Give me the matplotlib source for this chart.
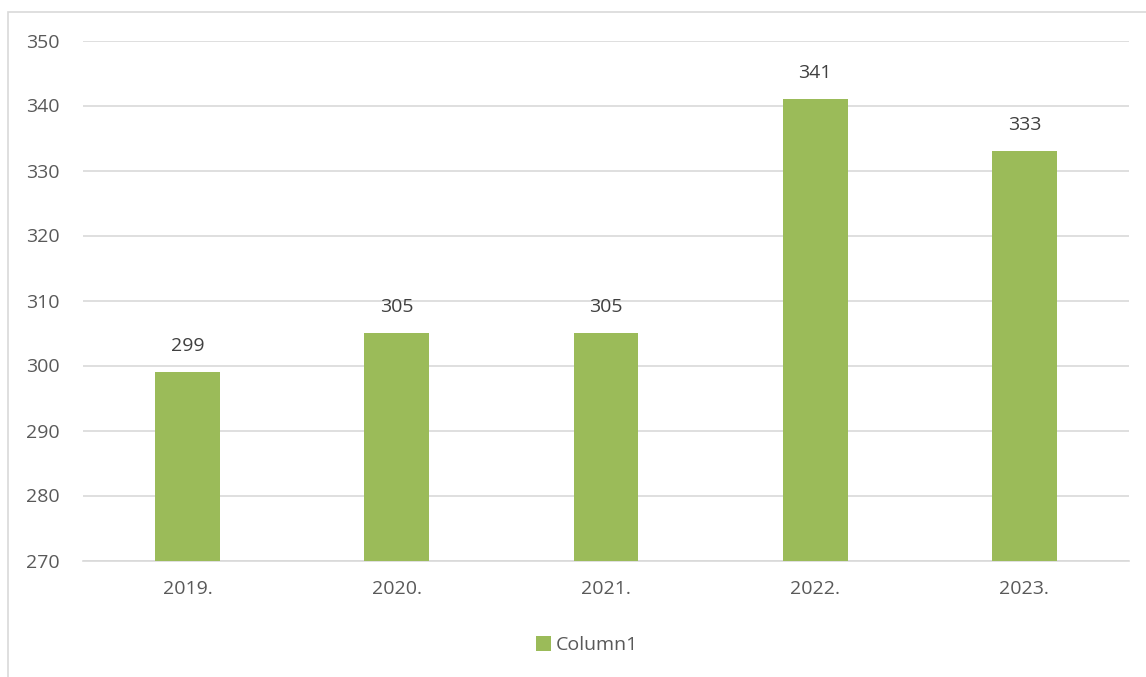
import matplotlib
matplotlib.use("Agg")
import matplotlib.pyplot as plt
from matplotlib.patches import Rectangle

years = ["2019.", "2020.", "2021.", "2022.", "2023."]
values = [299, 305, 305, 341, 333]
series_name = "Column1"

bar_color = "#9BBB59"
text_color = "#595959"
grid_color = "#D9D9D9"

plt.rcParams["font.family"] = ["Open Sans", "DejaVu Sans"]

fig = plt.figure(figsize=(11.46, 6.77), dpi=100)
ax = fig.add_axes([83 / 1146, 1 - 560.5 / 677, (1129 - 83) / 1146, (560.5 - 40.5) / 677])

x = list(range(len(years)))
bars = ax.bar(x, values, width=0.31, color=bar_color, label=series_name, zorder=3)
for xi, v in zip(x, values):
    ax.text(xi, v + 2.6, str(v), ha="center", va="bottom", fontsize=14, color="#404040")

ax.set_ylim(270, 350)
ax.set_xlim(-0.5, len(years) - 0.5)
ax.set_yticks(range(270, 351, 10))
ax.set_xticks(x)
ax.set_xticklabels(years)
ax.tick_params(axis="both", length=0, labelsize=14, colors=text_color)
ax.tick_params(axis="x", pad=14)
ax.tick_params(axis="y", pad=17)
ax.grid(axis="y", color=grid_color, linewidth=1.2, zorder=0)
for s in ["top", "right", "left"]:
    ax.spines[s].set_visible(False)
ax.spines["bottom"].set_color(grid_color)
ax.spines["bottom"].set_linewidth(1.2)

leg = fig.legend(handles=[bars], labels=[series_name], loc="center",
                 bbox_to_anchor=(587 / 1146, 1 - 645 / 677), frameon=False,
                 fontsize=14, handlelength=0.8, handleheight=0.8, handletextpad=0.25)
for t in leg.get_texts():
    t.set_color(text_color)

# chart border (only left and top edges fall inside the image)
fig.patches.append(Rectangle((7.5 / 1146, -0.1), 1.2, 1 - 11.5 / 677 + 0.1,
                             transform=fig.transFigure, fill=False,
                             edgecolor=grid_color, linewidth=1.2))

fig.savefig("out.png", dpi=100)
